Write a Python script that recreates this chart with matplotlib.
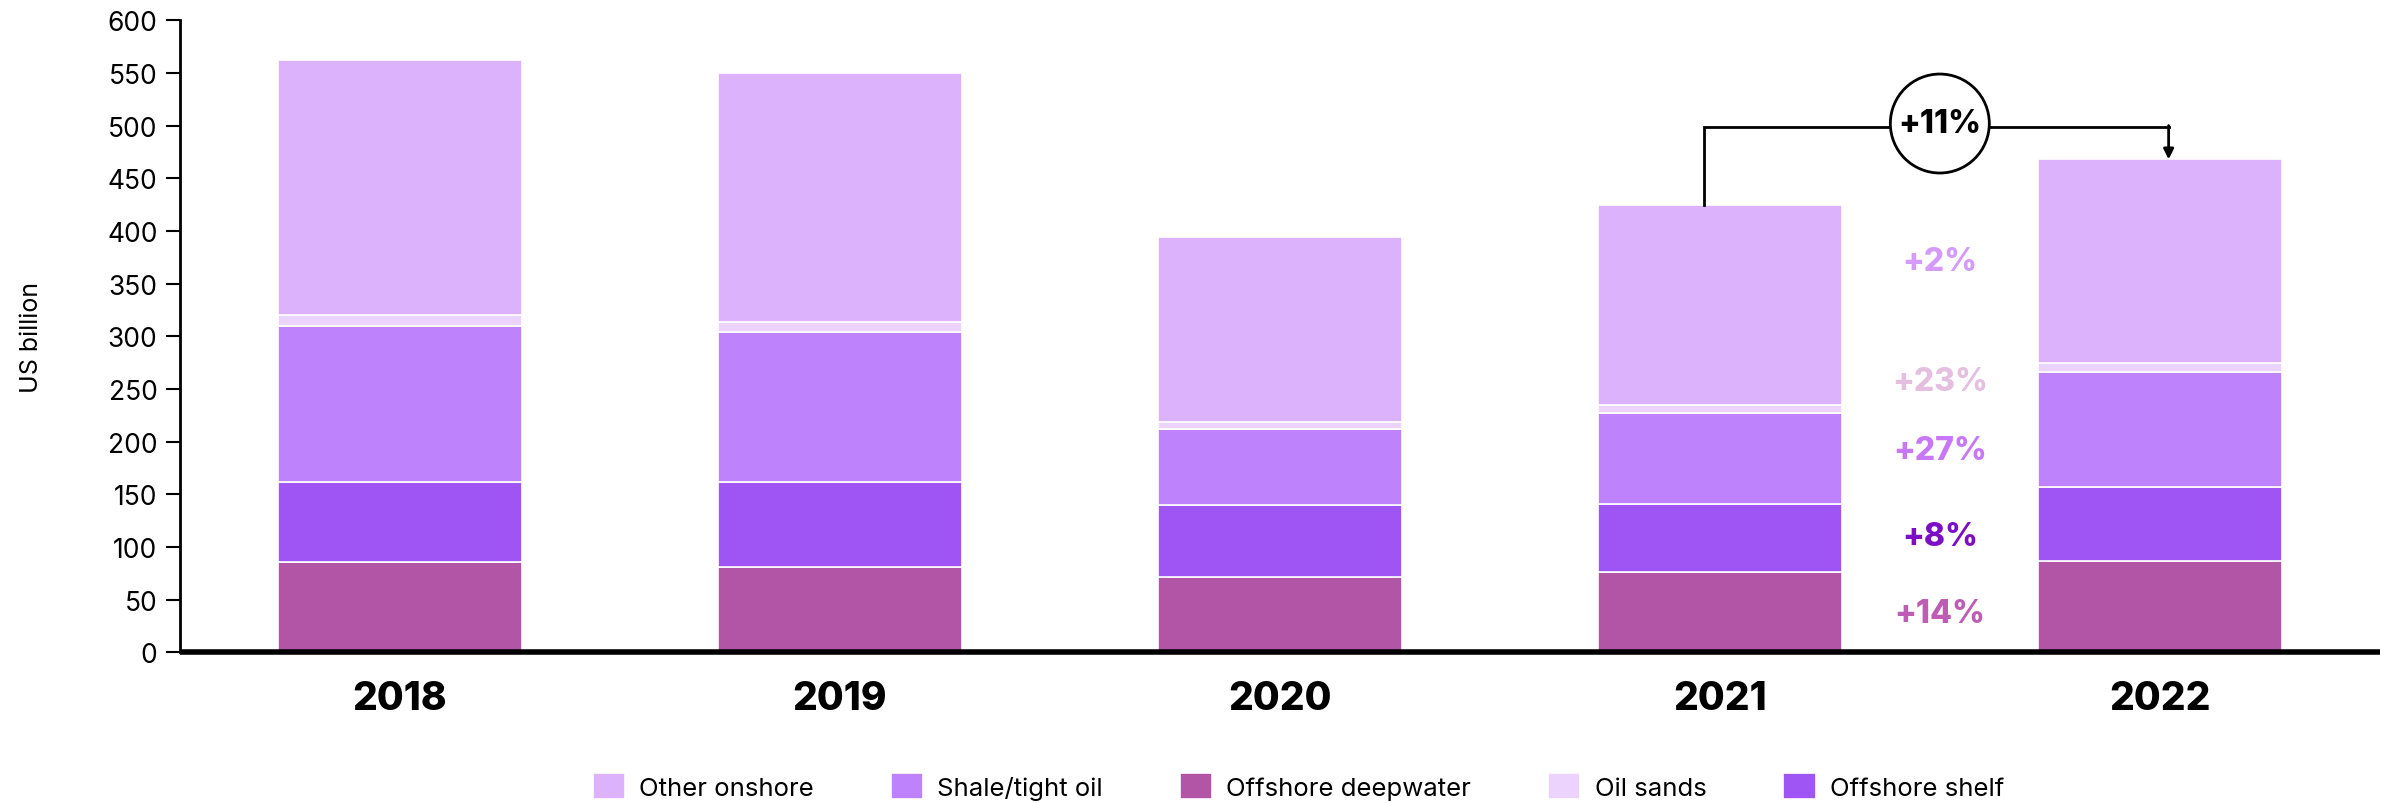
import numpy as np
import matplotlib.pyplot as plt

years = ["2018", "2019", "2020", "2021", "2022"]
offshore_deepwater = [86, 81, 71, 76, 87]
offshore_shelf = [76, 81, 69, 65, 70]
shale_tight_oil = [148, 142, 72, 86, 109]
oil_sands = [10, 10, 7, 7.3, 9]
other_onshore = [242, 236, 175, 190, 193]

change_labels = ["+14%", "+8%", "+27%", "+23%", "+2%"]
change_label_y = [37, 110, 192, 257, 371]
total_change = "+11%"

plt.rcParams["font.family"] = ["Inter", "DejaVu Sans"]

series = [
    ("Offshore deepwater", offshore_deepwater, "#b355a6"),
    ("Offshore shelf", offshore_shelf, "#9e55f3"),
    ("Shale/tight oil", shale_tight_oil, "#be82fd"),
    ("Oil sands", oil_sands, "#ebd3fd"),
    ("Other onshore", other_onshore, "#dcb2fc"),
]
label_colors = ["#bd5db3", "#7b0fc5", "#c977f9", "#e4bfe0", "#d59bfb"]

fig = plt.figure(figsize=(23.87, 8.04), dpi=100)
ax = fig.add_axes([0.0753, 0.1875, 0.9217, 0.786])

x = np.arange(len(years))
bottom = np.zeros(len(years))
handles = {}
for name, vals, color in series:
    b = ax.bar(x, vals, 0.555, bottom=bottom, color=color,
               edgecolor="white", linewidth=1.2, label=name)
    handles[name] = b
    bottom += np.array(vals)

totals = bottom

for lab, yv, c in zip(change_labels, change_label_y, label_colors):
    ax.text(3.5, yv, lab, ha="center", va="center", fontsize=23,
            fontweight="heavy", color=c)

# bracket between 2021 and 2022
br_y = 499
x0 = x[3] - 0.037
x1 = x[4] + 0.02
ax.plot([x0, x0, x1], [totals[3], br_y, br_y], color="black", lw=2,
        solid_joinstyle="miter", zorder=3)
ax.annotate("", xy=(x1, totals[4]), xytext=(x1, br_y + 1),
            arrowprops=dict(arrowstyle="-|>,head_length=0.6,head_width=0.3",
                            color="black", lw=2, shrinkA=0, shrinkB=0),
            zorder=3)
ax.text(3.5, br_y + 3, total_change, ha="center", va="center", fontsize=23,
        fontweight="heavy", color="black", zorder=4,
        bbox=dict(boxstyle="circle,pad=0.25", fc="white", ec="black", lw=2))

ax.set_xlim(-0.5, 4.5)
ax.set_ylim(0, 600)
ax.set_yticks(range(0, 601, 50))
ax.set_xticks(x)
ax.set_xticklabels(years, fontsize=28, fontweight="heavy")
ax.tick_params(axis="x", length=0, pad=20)
ax.tick_params(axis="y", labelsize=19, length=10, width=1.5, pad=6)
ax.set_ylabel("US billion", fontsize=18, labelpad=46)

for s in ["top", "right"]:
    ax.spines[s].set_visible(False)
ax.spines["left"].set_linewidth(2)
ax.spines["bottom"].set_linewidth(4)
ax.spines["bottom"].set_capstyle("butt")

order = ["Other onshore", "Shale/tight oil", "Offshore deepwater",
         "Oil sands", "Offshore shelf"]
fig.legend([handles[n] for n in order], order, loc="center",
           bbox_to_anchor=(0.544, 0.021), ncol=5, frameon=False,
           fontsize=18.5, handlelength=1.25, handleheight=1.2,
           handletextpad=0.55, columnspacing=3.0)

fig.savefig("out.png", dpi=100)
